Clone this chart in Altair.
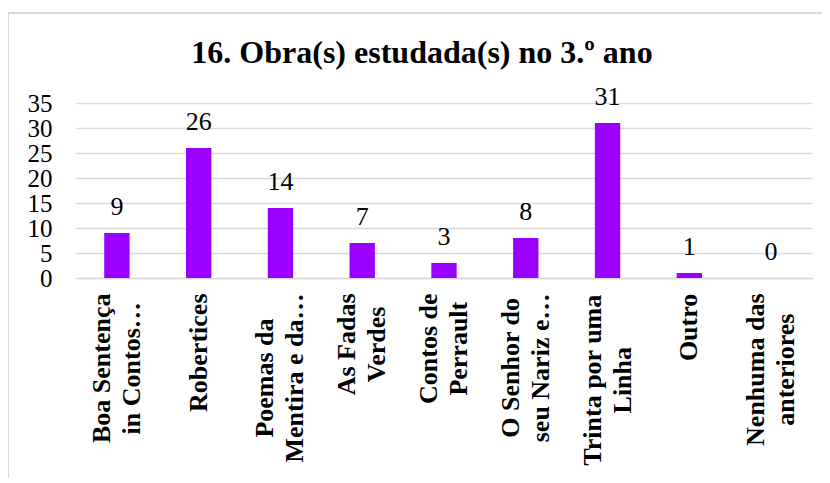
import altair as alt
import pandas as pd

categories = [
    "Boa Sentença|in Contos…",
    "Robertices",
    "Poemas da|Mentira e da…",
    "As Fadas|Verdes",
    "Contos de|Perrault",
    "O Senhor do|seu Nariz e…",
    "Trinta por uma|Linha",
    "Outro",
    "Nenhuma das|anteriores",
]
values = [9, 26, 14, 7, 3, 8, 31, 1, 0]
y_ticks = [0, 5, 10, 15, 20, 25, 30, 35]

df = pd.DataFrame({"obra": categories, "n": values})

FONT = "Liberation Serif"
W, H = 736, 175
XFS = 26

# Times-Bold advance widths (per 1000 em) used to centre the lines of each
# rotated label the way the original does (lines centred, block top-aligned).
TB = {" ": 250, "A": 722, "B": 667, "C": 722, "F": 611, "L": 667, "M": 944,
      "N": 722, "O": 778, "P": 611, "R": 722, "S": 556, "T": 667, "V": 722,
      "a": 500, "b": 556, "c": 444, "d": 556, "e": 444, "h": 556, "i": 278,
      "l": 278, "m": 833, "n": 556, "o": 500, "p": 556, "r": 444, "s": 389,
      "t": 333, "u": 556, "z": 444, "ç": 444, "…": 1000}


def text_w(s):
    return sum(TB.get(ch, 500) for ch in s) * XFS / 1000.0


pad_conditions = [
    {"test": f"datum.value == '{c}'",
     "value": round(15 + max(text_w(line) for line in c.split("|")) / 2, 1)}
    for c in categories
]

x_enc = alt.X(
    "obra:N",
    sort=None,
    scale=alt.Scale(paddingInner=0.69, paddingOuter=0.345),
    axis=alt.Axis(
        title=None,
        labelAngle=-90,
        labelAlign="center",
        labelBaseline="middle",
        labelExpr="split(datum.label, '|')",
        labelLineHeight=30,
        labelOffset={"condition": {"test": "indexof(datum.label, '|') >= 0", "value": -15}, "value": 0},
        labelPadding={"condition": pad_conditions, "value": 15},
        labelFont=FONT,
        labelFontSize=XFS,
        labelFontWeight="bold",
        labelColor="black",
        ticks=False,
        domain=True,
        domainColor="#d9d9d9",
        domainWidth=1.5,
        grid=False,
        labelLimit=300,
        labelOverlap=False,
    ),
)
y_enc = alt.Y(
    "n:Q",
    scale=alt.Scale(domain=[0, 35], nice=False),
    axis=alt.Axis(
        title=None,
        values=y_ticks,
        labelFont=FONT,
        labelFontSize=25,
        labelColor="black",
        labelPadding=24,
        labelOverlap=False,
        ticks=False,
        domain=False,
        grid=True,
        gridColor="#d9d9d9",
        gridWidth=1.5,
    ),
)

border = alt.Chart(df).mark_rect(
    fill=None, stroke="#d9d9d9", strokeWidth=2
).encode(
    x=alt.value(-68), x2=alt.value(800), y=alt.value(-90), y2=alt.value(500)
)

bars = alt.Chart(df).mark_bar(color="#9900ff").encode(x=x_enc, y=y_enc)

labels = alt.Chart(df).mark_text(
    font=FONT, fontSize=26, color="black", baseline="bottom", dy=-13
).encode(x=x_enc, y=y_enc, text="n:Q")

chart = alt.layer(border, bars, labels).properties(
    width=W,
    height=H,
    autosize=alt.AutoSizeParams(type="none"),
    padding={"left": 68, "top": 95, "right": 10, "bottom": 200},
    title=alt.TitleParams(
        "16. Obra(s) estudada(s) no 3.º ano",
        font=FONT,
        fontSize=32,
        fontWeight="bold",
        color="black",
        anchor="middle",
        frame="group",
        baseline="alphabetic",
        dx=-22,
        offset=-83,
    ),
).configure_view(stroke=None)

chart.save("out.html", embed_options={"renderer": "svg", "actions": False})
